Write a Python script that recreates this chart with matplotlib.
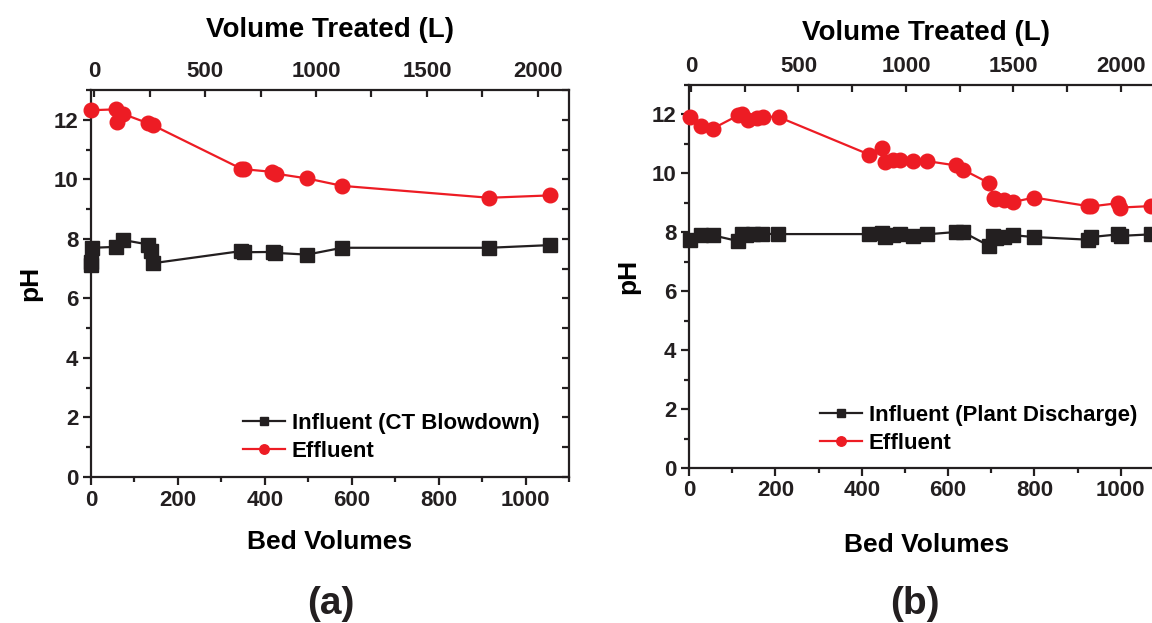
import matplotlib
matplotlib.use("Agg")
import matplotlib.pyplot as plt
from matplotlib.ticker import MultipleLocator

plt.rcParams['font.family'] = ['Liberation Sans', 'DejaVu Sans']
plt.rcParams['font.weight'] = 'bold'

# ---------------- data (a): CT Blowdown ----------------
a_inf_bv = [0, 0, 3, 57, 74, 132, 139, 142, 346, 352, 418, 423, 497, 578, 916, 1057]
a_inf_ph = [7.12, 7.22, 7.70, 7.73, 7.96, 7.81, 7.59, 7.18, 7.59, 7.55, 7.56, 7.53, 7.47, 7.70, 7.70, 7.79]
a_eff_bv = [0, 57, 60, 73, 132, 142, 345, 352, 417, 425, 497, 578, 916, 1057]
a_eff_ph = [12.32, 12.35, 11.93, 12.20, 11.88, 11.82, 10.36, 10.34, 10.25, 10.19, 10.03, 9.78, 9.38, 9.46]

# ---------------- data (b): Plant Discharge ----------------
b_inf_bv = [2, 28, 55, 114, 122, 133, 148, 170, 205, 417, 446, 455, 473, 488, 519, 550,
            618, 634, 695, 703, 710, 729, 751, 799, 924, 932, 994, 1001, 1069]
b_inf_ph = [7.75, 7.90, 7.90, 7.70, 7.93, 7.90, 7.93, 7.95, 7.94, 7.94, 7.98, 7.84, 7.90, 7.94, 7.86, 7.93,
            8.01, 8.01, 7.54, 7.86, 7.80, 7.84, 7.90, 7.84, 7.75, 7.84, 7.93, 7.88, 7.93]
b_eff_bv = [2, 28, 55, 114, 122, 137, 157, 172, 208, 417, 446, 455, 473, 488, 519, 550,
            618, 634, 695, 706, 708, 729, 751, 799, 924, 932, 994, 999, 1069]
b_eff_ph = [11.93, 11.60, 11.52, 11.97, 12.02, 11.82, 11.89, 11.93, 11.91, 10.64, 10.87, 10.38, 10.46, 10.44, 10.42, 10.42,
            10.27, 10.13, 9.67, 9.18, 9.13, 9.11, 9.03, 9.18, 8.89, 8.88, 8.99, 8.84, 8.89]

panel_labels = ['(a)', '(b)']
inf_labels = ['Influent (CT Blowdown)', 'Influent (Plant Discharge)']
eff_label = 'Effluent'
top_ticks = [0, 500, 1000, 1500, 2000, 2500]

RED = '#ED1C24'
BLK = '#231F20'

W, H = 1152, 623
fig = plt.figure(figsize=(W / 100, H / 100), dpi=100)


def px_axes(l, t, r, b):
    return fig.add_axes([l / W, 1 - b / H, (r - l) / W, (b - t) / H])


def style(ax, top_lim, data, leg_xy, top_pad, bot_pad):
    inf_bv, inf_ph, eff_bv, eff_ph, inf_lab = data
    ax.plot(inf_bv, inf_ph, '-s', color=BLK, lw=1.6, ms=9.5, mec=BLK, mfc=BLK, label=inf_lab, clip_on=False, zorder=3)
    ax.plot(eff_bv, eff_ph, '-o', color=RED, lw=1.6, ms=10.5, mec=RED, mfc=RED, label=eff_label, clip_on=False, zorder=3)
    ax.set_xlim(0, 1100)
    ax.set_ylim(0, 13)
    ax.xaxis.set_major_locator(MultipleLocator(200))
    ax.xaxis.set_minor_locator(MultipleLocator(100))
    ax.yaxis.set_major_locator(MultipleLocator(2))
    ax.yaxis.set_minor_locator(MultipleLocator(1))
    for s in ax.spines.values():
        s.set_linewidth(1.6)
        s.set_color(BLK)
    ax.tick_params(axis='both', which='major', direction='out', length=6, width=1.6,
                   labelsize=16, pad=3, colors=BLK)
    ax.tick_params(axis='both', which='minor', direction='out', length=3.5, width=1.6, colors=BLK)
    ax.tick_params(axis='y', which='both', right=False, labelright=False)
    ax.set_xlabel('Bed Volumes', fontsize=19, fontweight='bold', labelpad=bot_pad)
    ax.set_ylabel('pH', fontsize=19, fontweight='bold', labelpad=8)
    # right side ticks inward
    ax2y = ax.secondary_yaxis('right')
    ax2y.yaxis.set_major_locator(MultipleLocator(1))
    ax2y.tick_params(direction='in', length=5, width=1.6, labelright=False, colors=BLK)
    ax2y.spines['right'].set_visible(False)

    axt = ax.twiny()
    axt.xaxis.set_major_locator(MultipleLocator(500))
    axt.xaxis.set_minor_locator(MultipleLocator(250))
    axt.tick_params(axis='x', which='both', direction='in', length=5, width=1.6, labelsize=16, pad=6, colors=BLK)
    axt.set_xticks(top_ticks)
    axt.set_xlim(*top_lim)
    axt.set_xlabel('Volume Treated (L)', fontsize=20, fontweight='bold', labelpad=top_pad)
    for s in axt.spines.values():
        s.set_visible(False)

    ax.legend(loc='lower left', bbox_to_anchor=leg_xy, frameon=False, fontsize=16,
              handlelength=1.9, handletextpad=0.3, labelspacing=0.3, markerscale=0.65,
              borderaxespad=0, borderpad=0)
    return ax


axa = px_axes(91, 90, 569, 477)
style(axa, (-14, 2140), (a_inf_bv, a_inf_ph, a_eff_bv, a_eff_ph, inf_labels[0]), (0.318, 0.04), 17, 14)
fig.text(331 / W, 1 - 604 / H, panel_labels[0], fontsize=28, fontweight='bold', ha='center', va='center', color=BLK)

axb = px_axes(689, 85, 1164, 468)
style(axb, (-9, 2200), (b_inf_bv, b_inf_ph, b_eff_bv, b_eff_ph, inf_labels[1]), (0.276, 0.037), 11, 23)
fig.text(915 / W, 1 - 604 / H, panel_labels[1], fontsize=28, fontweight='bold', ha='center', va='center', color=BLK)

fig.savefig('out.png', dpi=100)
